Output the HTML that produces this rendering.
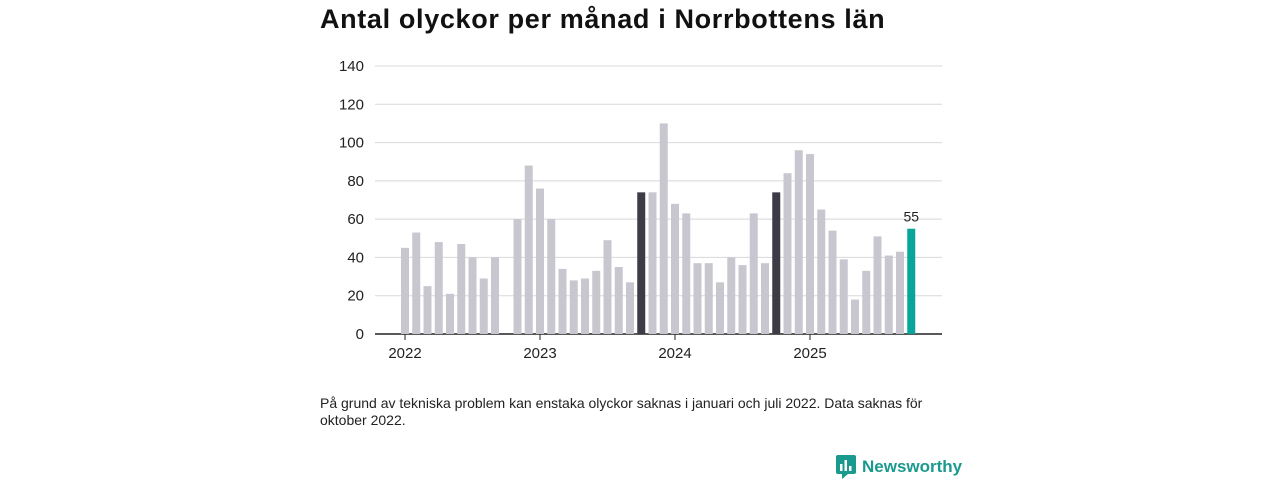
<!DOCTYPE html>
<html><head><meta charset="utf-8"><style>
body{margin:0;width:1280px;height:480px;background:#fff;font-family:"Liberation Sans",sans-serif;overflow:hidden;position:relative}
h1{position:absolute;left:320px;top:4px;margin:0;font-size:27px;font-weight:bold;color:#111;letter-spacing:0.65px}
.note{position:absolute;left:320px;top:395px;width:640px;font-size:14px;line-height:17px;color:#222}
.logo{position:absolute;left:836px;top:455px;display:flex;align-items:center;gap:6px;color:#1a9a8e;font-weight:bold;font-size:17px}
</style></head><body>
<h1>Antal olyckor per månad i Norrbottens län</h1>
<svg id="chart" width="1280" height="480" style="position:absolute;left:0;top:0"></svg>
<div class="note">På grund av tekniska problem kan enstaka olyckor saknas i januari och juli 2022. Data saknas för oktober 2022.</div>
<div class="logo"><svg width="20" height="24" viewBox="0 0 20 24"><rect x="0" y="0" width="20" height="19" rx="2" fill="#1a9a8e"/><polygon points="6,19 12,19 6,24" fill="#1a9a8e"/><rect x="4" y="9" width="2.5" height="7" fill="#fff"/><rect x="8.5" y="5" width="2.5" height="11" fill="#fff"/><rect x="13" y="11" width="2.5" height="5" fill="#fff"/></svg><span>Newsworthy</span></div>
<script>
const values=[45,53,25,48,21,47,40,29,40,null,60,88,76,60,34,28,29,33,49,35,27,74,74,110,68,63,37,37,27,40,36,63,37,74,84,96,94,65,54,39,18,33,51,41,43,55];
const yTicks=[0,20,40,60,80,100,120,140];
const yearLabels=["2022","2023","2024","2025"];
const svg=document.getElementById('chart');const NS='http://www.w3.org/2000/svg';
const y=v=>334-v*(268/140);const x=i=>405+i*11.25;
function el(t,a){const e=document.createElementNS(NS,t);for(const k in a)e.setAttribute(k,a[k]);svg.appendChild(e);return e;}
yTicks.forEach(t=>{
 const l=el('line',{x1:375,x2:942,y1:y(t),y2:y(t),stroke:t?'#d8d8dc':'#222','stroke-width':t?1:1.5});
 
 
 const tx=el('text',{x:364,y:y(t)+5,'text-anchor':'end','font-size':15,fill:'#222'});tx.textContent=t;
 
 
});
values.forEach((v,i)=>{
 if(v==null)return;
 const last=i===values.length-1, dark=i%12===9;
 const r=el('rect',{x:x(i)-4,y:y(v),width:8,height:334-y(v),fill:last?'#0aa59a':dark?'#3c3b46':'#c8c7cf'});
 
 
 if(last){const t=el('text',{x:x(i),y:y(v)-7,'text-anchor':'middle','font-size':14,fill:'#222'});t.textContent=v;
 
 }
});
yearLabels.forEach((lab,k)=>{
 const xi=x(k*12);
 const tk=el('line',{x1:xi,x2:xi,y1:334,y2:340,stroke:'#222'});
 
 
 const t=el('text',{x:xi,y:358,'text-anchor':'middle','font-size':15,fill:'#222'});t.textContent=lab;
 
 
});
</script>
</body></html>
